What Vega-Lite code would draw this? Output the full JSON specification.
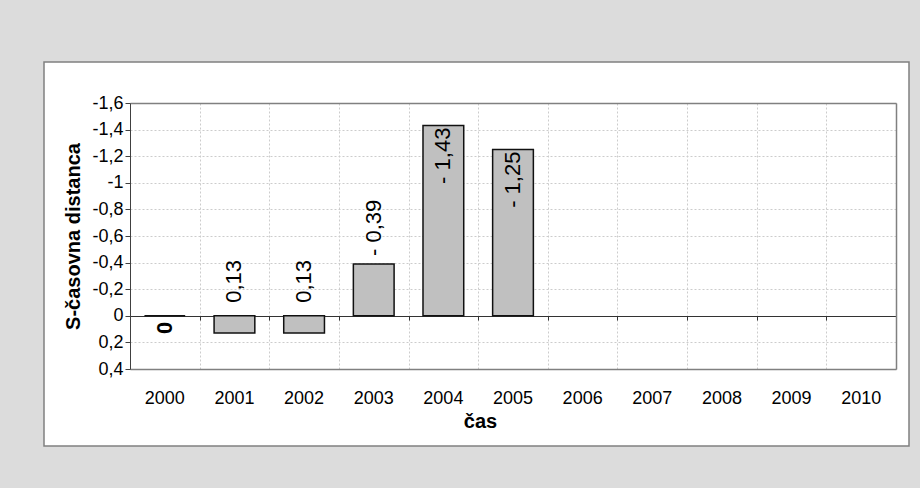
{
  "$schema": "https://vega.github.io/schema/vega-lite/v6.json",
  "width": 865,
  "height": 384,
  "autosize": {"type": "none"},
  "padding": {"left": 44, "top": 62, "right": 11, "bottom": 42},
  "background": "#dcdcdc",
  "config": {
    "font": "Liberation Sans",
    "view": {"fill": "white", "stroke": "#808080", "strokeWidth": 1.5}
  },
  "data": {
    "values": [
      {"year": "2000", "value": 0, "label": "0"},
      {"year": "2001", "value": 0.13, "label": "0,13"},
      {"year": "2002", "value": 0.13, "label": "0,13"},
      {"year": "2003", "value": -0.39, "label": "- 0,39"},
      {"year": "2004", "value": -1.43, "label": "- 1,43"},
      {"year": "2005", "value": -1.25, "label": "- 1,25"}
    ]
  },
  "resolve": {"axis": {"x": "independent", "y": "independent"}},
  "layer": [
    {
      "mark": {"type": "bar", "fill": "#c0c0c0", "stroke": "#111111", "strokeWidth": 1.5, "width": {"band": 0.585}},
      "encoding": {
        "x": {
          "field": "year", "type": "ordinal",
          "scale": {"domain": ["2000","2001","2002","2003","2004","2005","2006","2007","2008","2009","2010"], "range": [86, 852], "paddingInner": 0, "paddingOuter": 0},
          "axis": {
            "orient": "bottom", "offset": -77, "domainColor": "#808080", "domainWidth": 1.5,
            "ticks": false, "labelAngle": 0, "labelFont": "Liberation Sans", "labelFontSize": 18, "labelColor": "#000000", "labelPadding": 20,
            "grid": false,
            "title": "čas", "titleFont": "Liberation Sans", "titleFontSize": 20, "titleFontWeight": "bold", "titleColor": "#000000", "titlePadding": 4, "titleX": 436
          }
        },
        "y": {
          "field": "value", "type": "quantitative",
          "scale": {"domain": [-1.6, 0.4], "range": [41, 307], "nice": false},
          "axis": {
            "orient": "left", "offset": -86,
            "values": [-1.6, -1.4, -1.2, -1, -0.8, -0.6, -0.4, -0.2, 0, 0.2, 0.4],
            "labelExpr": "replace(toString(datum.value), '.', ',')",
            "domainColor": "#404040", "tickColor": "#404040", "tickSize": 5, "labelPadding": 2,
            "labelFont": "Liberation Sans", "labelFontSize": 18, "labelColor": "#000000",
            "grid": true, "gridColor": "#cccccc", "gridDash": [2, 2],
            "title": "S-časovna distanca", "titleFont": "Liberation Sans", "titleFontSize": 20, "titleFontWeight": "bold", "titleColor": "#000000", "titlePadding": 8
          }
        },
        "y2": {"datum": 0}
      }
    },
    {
      "transform": [{"filter": "datum.value < -1"}],
      "mark": {"type": "text", "angle": 270, "align": "right", "baseline": "middle", "dx": -2, "fontSize": 22, "color": "#000000"},
      "encoding": {
        "x": {"field": "year", "type": "ordinal",
          "axis": {"orient": "bottom", "offset": -130, "domainColor": "#333333", "domainWidth": 1.2, "ticks": true, "tickBand": "extent", "tickSize": 4, "tickColor": "#333333", "labels": false, "grid": false, "title": null}},
        "y": {"field": "value", "type": "quantitative",
          "axis": {"orient": "right", "offset": -13, "domainColor": "#808080", "domainWidth": 1.5, "ticks": false, "labels": false, "grid": false, "title": null}},
        "text": {"field": "label"}
      }
    },
    {
      "transform": [{"filter": "datum.value < 0 && datum.value >= -1"}],
      "mark": {"type": "text", "angle": 270, "align": "left", "baseline": "middle", "dx": 8, "fontSize": 22, "color": "#000000"},
      "encoding": {
        "x": {"field": "year", "type": "ordinal",
          "axis": {"orient": "top", "offset": -41, "domainColor": "#808080", "domainWidth": 1.5, "ticks": false, "labels": false,
            "grid": true, "gridColor": "#cccccc", "gridDash": [2, 2], "tickBand": "extent", "title": null}},
        "y": {"field": "value", "type": "quantitative", "axis": null},
        "text": {"field": "label"}
      }
    },
    {
      "transform": [{"filter": "datum.value > 0"}],
      "mark": {"type": "text", "angle": 270, "align": "left", "baseline": "middle", "dx": 13, "fontSize": 22, "color": "#000000"},
      "encoding": {
        "x": {"field": "year", "type": "ordinal", "axis": null},
        "y": {"datum": 0, "axis": null},
        "text": {"field": "label"}
      }
    },
    {
      "transform": [{"filter": "datum.value == 0"}],
      "mark": {"type": "text", "angle": 270, "align": "right", "baseline": "middle", "dx": -6, "fontSize": 22, "fontWeight": "bold", "color": "#000000"},
      "encoding": {
        "x": {"field": "year", "type": "ordinal", "axis": null},
        "y": {"field": "value", "type": "quantitative", "axis": null},
        "text": {"field": "label"}
      }
    }
  ]
}
